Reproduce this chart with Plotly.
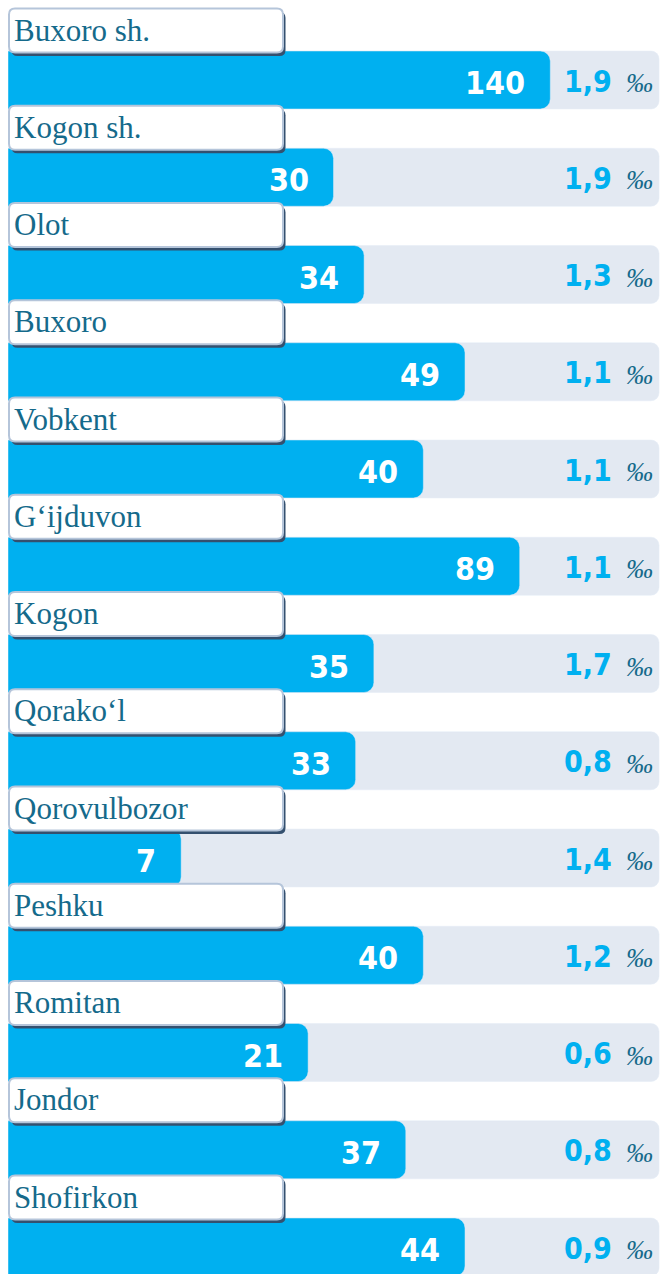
import plotly.graph_objects as go

# ---- data ----
regions = ["Buxoro sh.", "Kogon sh.", "Olot", "Buxoro", "Vobkent", "G‘ijduvon", "Kogon",
           "Qorako‘l", "Qorovulbozor", "Peshku", "Romitan", "Jondor", "Shofirkon"]
counts = [140, 30, 34, 49, 40, 89, 35, 33, 7, 40, 21, 37, 44]
bar_scores = [83.3, 50.0, 54.7, 70.2, 63.8, 78.6, 56.2, 53.4, 26.6, 63.8, 46.1, 61.1, 70.2]
rates = [1.9, 1.9, 1.3, 1.1, 1.1, 1.1, 1.7, 0.8, 1.4, 1.2, 0.6, 0.8, 0.9]
track_full = [100] * len(regions)

# ---- style ----
W, H = 661, 1274
ML = 8
XMAX = 100.3
PITCH = 97.25
C0 = 80.0
BLUE = "#00b0f0"
TRACK = "#e3e9f2"
TEAL = "#156a8b"
BORDER = "#b5c5da"
SHADOW = "#34506f"

px_x = (W - ML) / XMAX          # pixels per x unit
ypos = list(range(len(regions)))
y_top = -C0 / PITCH
y_bot = y_top + H / PITCH

fig = go.Figure()
# grey track on the main axis, blue bars alone on an overlaying axis drawn above it
fig.add_trace(go.Bar(y=ypos, x=track_full, orientation="h", width=58 / PITCH,
                     marker=dict(color=TRACK, cornerradius=8),
                     hoverinfo="skip", showlegend=False))
fig.add_trace(go.Bar(y=ypos, x=bar_scores, orientation="h", width=58 / PITCH,
                     marker=dict(color=BLUE, cornerradius=10),
                     hoverinfo="skip", showlegend=False, xaxis="x2"))


def rrect(x0, x1, y0, y1, r_px):
    rx = r_px / px_x
    ry = r_px / PITCH
    return (f"M{x0+rx},{y0} L{x1-rx},{y0} Q{x1},{y0} {x1},{y0+ry} "
            f"L{x1},{y1-ry} Q{x1},{y1} {x1-rx},{y1} L{x0+rx},{y1} "
            f"Q{x0},{y1} {x0},{y1-ry} L{x0},{y0+ry} Q{x0},{y0} {x0+rx},{y0} Z")


shapes = []
annotations = []
bx0 = (9 - ML) / px_x
bx1 = (283 - ML) / px_x
for i, name in enumerate(regions):
    by0 = i - 71.4 / PITCH
    by1 = i - 27.6 / PITCH
    shapes.append(dict(type="path", xref="x", yref="y",
                       path=rrect(bx0 + 2.5 / px_x, bx1 + 2.5 / px_x,
                                  by0 + 3.5 / PITCH, by1 + 3.5 / PITCH, 6),
                       fillcolor=SHADOW, line=dict(width=0), layer="above"))
    shapes.append(dict(type="path", xref="x", yref="y",
                       path=rrect(bx0, bx1, by0, by1, 6),
                       fillcolor="white", line=dict(color=BORDER, width=2), layer="above"))
    annotations.append(dict(x=0, y=i, xref="x", yref="y", xanchor="left", yanchor="middle",
                            xshift=4, yshift=50, text=name, showarrow=False,
                            font=dict(family="Liberation Serif", size=31, color=TEAL)))
    annotations.append(dict(x=bar_scores[i], y=i, xref="x", yref="y", xanchor="right",
                            yanchor="middle", xshift=-23, yshift=-3, text=str(counts[i]),
                            showarrow=False,
                            font=dict(family="DejaVu Sans Condensed, DejaVu Sans", size=32,
                                      color="white", weight="bold")))
    annotations.append(dict(x=1, y=i, xref="paper", yref="y", xanchor="right",
                            yanchor="middle", xshift=-47, yshift=-1,
                            text=f"{rates[i]:.1f}".replace(".", ","), showarrow=False,
                            font=dict(family="DejaVu Sans Condensed, DejaVu Sans", size=30,
                                      color=BLUE, weight="bold")))
    annotations.append(dict(x=1, y=i, xref="paper", yref="y", xanchor="right",
                            yanchor="middle", xshift=-6, yshift=-3, text="‰",
                            showarrow=False,
                            font=dict(family="Liberation Serif", size=27, color=TEAL,
                                      style="italic")))

fig.update_layout(
    width=W, height=H,
    margin=dict(l=ML, r=0, t=0, b=0),
    paper_bgcolor="white", plot_bgcolor="rgba(0,0,0,0)",
    barmode="overlay",
    xaxis=dict(range=[0, XMAX], visible=False, fixedrange=True),
    xaxis2=dict(range=[0, XMAX], visible=False, fixedrange=True, overlaying="x"),
    yaxis=dict(range=[y_bot, y_top], visible=False, fixedrange=True),
    shapes=shapes, annotations=annotations,
    showlegend=False,
)

fig.write_html("out.html", config={"displayModeBar": False},
               post_script="document.body.style.margin='0';document.body.style.overflow='hidden';")
